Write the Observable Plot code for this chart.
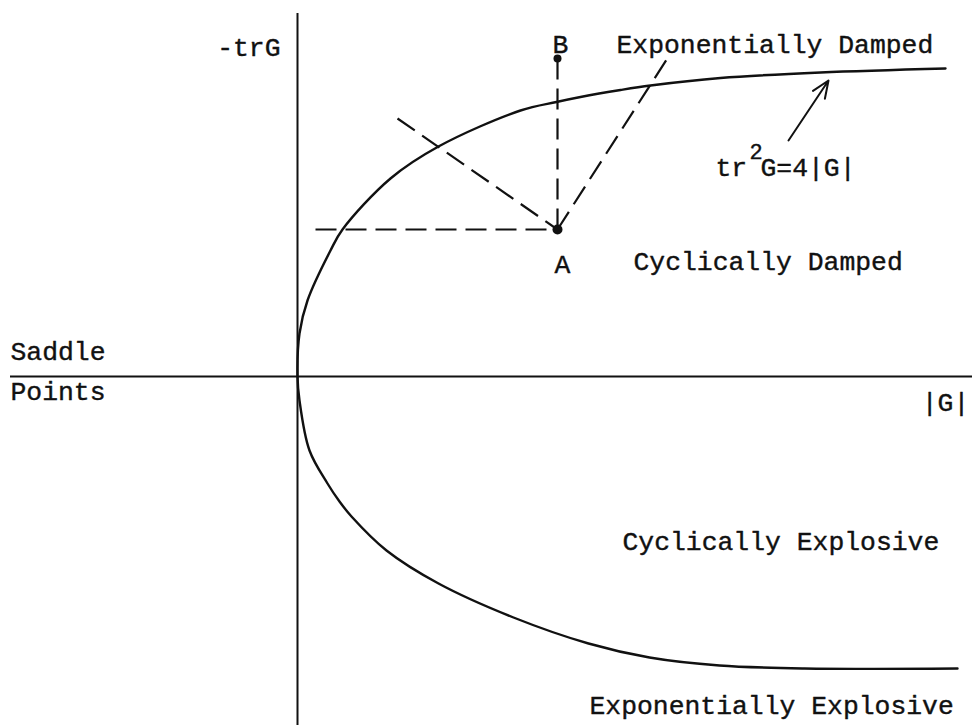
<!DOCTYPE html>
<html>
<head>
<meta charset="utf-8">
<script src="https://cdn.jsdelivr.net/npm/d3@7"></script>
<script src="https://cdn.jsdelivr.net/npm/@observablehq/plot@0.6"></script>
<style>
  html, body { margin: 0; padding: 0; background: #fff; }
  #chart svg { display: block; }
</style>
</head>
<body>
<div id="chart"></div>
<script>
// Boundary tr²G = 4|G| in the (|G|, -trG) plane, traced from the upper branch
// through the origin to the lower branch.
const boundaryG   = [64.8, 52.3, 42.3, 35.3, 32.3, 28.3, 25.9, 22.3, 14.1, 9.3, 4.5, 3.3, 1.0, 0.2, 0.0,
                     0.2, 1.2, 3.0, 4.2, 5.4, 8.9, 14.1, 21.6, 29.1, 35.2, 42.2, 50.7, 66.0];
const boundaryTrG = [30.8, 30.4, 29.85, 29.1, 28.65, 27.95, 27.45, 26.6, 23.0, 19.8, 14.7, 12.6, 7.6, 4.3, 0.0,
                     -2.4, -7.4, -10.7, -12.5, -14.0, -17.4, -20.7, -24.1, -26.7, -28.1, -28.9, -29.2, -29.2];

// Points A and B
const pointNames = ["A", "B"];
const pointG     = [26.0, 26.0];
const pointTrG   = [14.7, 31.8];
const pointR     = [5, 4];

// Dashed construction lines, each ending at A
const dashG1   = [1.8, 10.0, 26.0, 26.0];
const dashTrG1 = [14.7, 25.8, 31.8, 14.7];
const dashG2   = [26.0, 26.0, 26.0, 37.3];
const dashTrG2 = [14.7, 14.7, 14.7, 32.3];

// Arrow pointing at the boundary curve
const arrowFrom = [49.1, 23.6];
const arrowTo   = [53.1, 29.6];

// Region and axis labels
const labelText   = ["-trG", "B", "Exponentially Damped", "A", "Cyclically Damped",
                     "Saddle", "Points", "|G|", "Cyclically Explosive", "Exponentially Explosive"];
const labelG      = [-1.7, 26.3, 31.9, 26.5, 33.6, -28.7, -28.7, 64.8, 32.5, 29.2];
const labelTrG    = [32.9, 33.2, 33.2, 11.2, 11.5, 2.5, -1.5, -2.6, -16.5, -32.9];
const labelAnchor = ["end", "middle", "start", "middle", "start", "start", "start", "middle", "start", "start"];

// Curve label  tr²G=4|G|  (superscript drawn as its own raised piece)
const eqText = ["tr", "2", "G=4|G|"];
const eqG    = [41.8, 45.2, 46.3];
const eqTrG  = [20.9, 22.5, 20.9];

const boundary = boundaryG.map((g, i) => ({g, t: boundaryTrG[i]}));
const points = pointNames.map((n, i) => ({n, g: pointG[i], t: pointTrG[i], r: pointR[i]}));
const dashes = dashG1.map((g, i) => ({g1: g, t1: dashTrG1[i], g2: dashG2[i], t2: dashTrG2[i]}));
const labels = labelText.map((s, i) => ({s, g: labelG[i], t: labelTrG[i], a: labelAnchor[i]}));
const eq = eqText.map((s, i) => ({s, g: eqG[i], t: eqTrG[i]}));

const font = "Liberation Mono, Courier New, monospace";
const textStyle = {fontFamily: font, fill: "#111", stroke: "#111", strokeWidth: 0.4};

const chart = Plot.plot({
  width: 972,
  height: 725,
  margin: 0,
  x: {domain: [-29.7, 67.5], axis: null},
  y: {domain: [-34.9, 37.6], axis: null},
  r: {type: "identity"},
  style: {background: "#fff"},
  marks: [
    // axes
    Plot.ruleY([0], {x1: -28.7, x2: 67.5, stroke: "#111", strokeWidth: 2}),
    Plot.ruleX([0], {y1: 36.3, y2: -34.9, stroke: "#111", strokeWidth: 2}),
    // dashed construction lines
    Plot.link(dashes, {x1: "g1", y1: "t1", x2: "g2", y2: "t2",
      stroke: "#111", strokeWidth: 2.2, strokeDasharray: "21,9"}),
    // boundary curve
    Plot.line(boundary, {x: "g", y: "t", curve: "catmull-rom", stroke: "#111", strokeWidth: 2.4}),
    // arrow
    Plot.arrow([{}], {x1: arrowFrom[0], y1: arrowFrom[1], x2: arrowTo[0], y2: arrowTo[1],
      stroke: "#111", strokeWidth: 2, headLength: 14, headAngle: 45}),
    // points
    Plot.dot(points, {x: "g", y: "t", r: "r", fill: "#111", stroke: "none"}),
    // labels
    ...labels.map(d => Plot.text([d], {x: "g", y: "t", text: "s", textAnchor: d.a,
      fontSize: 26.4, ...textStyle})),
    Plot.text([eq[0], eq[2]], {x: "g", y: "t", text: "s", textAnchor: "start",
      fontSize: 26.4, ...textStyle}),
    Plot.text([eq[1]], {x: "g", y: "t", text: "s", textAnchor: "start",
      fontSize: 22, ...textStyle})
  ]
});

document.getElementById("chart").appendChild(chart);
</script>
</body>
</html>
